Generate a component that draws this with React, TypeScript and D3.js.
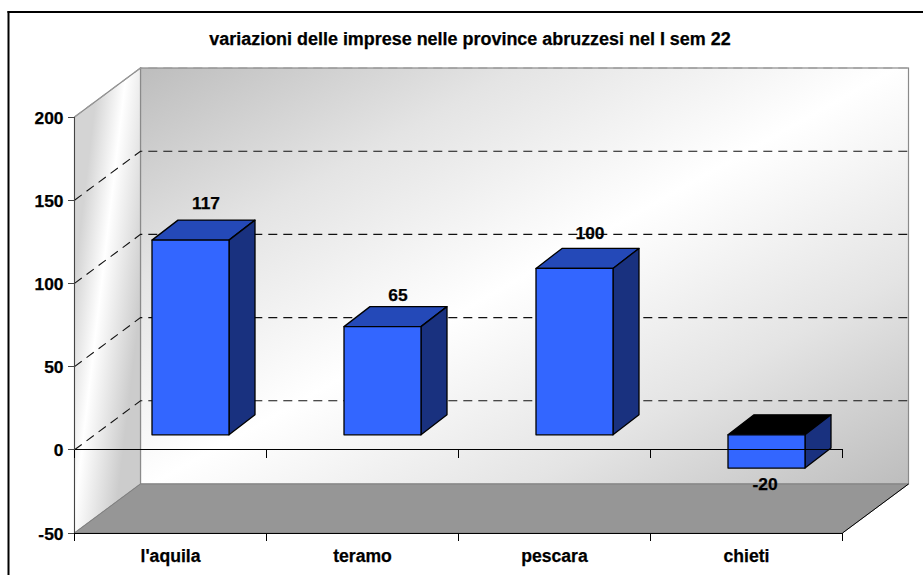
import React from 'react'
import * as d3 from 'd3'

const categories = ["l'aquila", 'teramo', 'pescara', 'chieti']
const values = [117, 65, 100, -20]
const yTicks = [-50, 0, 50, 100, 150, 200]
const gridTicks = [0, 50, 100, 150, 200]
const titleText = 'variazioni delle imprese nelle province abruzzesi nel I sem 22'

const width = 923
const height = 575
const font = '"Liberation Sans", Arial, sans-serif'

// oblique offset of the back wall, and of the bars inside the box
const depthX = 66
const depthY = -49
const barDepthX = 26
const barDepthY = -20
const barShiftX = 20
const barShiftY = -15
const barWidth = 77

const x = d3.scaleBand<string>().domain(categories).range([74.5, 842.5])
const y = d3.scaleLinear().domain([-50, 200]).range([533, 117])
// the value labels don't follow the bars exactly, they sit on their own scale
const labelY = d3.scaleLinear().domain([0, 117]).range([415.5, 208.5])

const boldText = { fontWeight: 'bold', stroke: '#000', strokeWidth: 0.25 } as const

const App: React.FC = () => {
  const x0 = x.range()[0]
  const x1 = x.range()[1]
  const edges = [...categories.map(c => x(c) as number), x1]

  const poly = (pts: number[][]) => d3.line()(pts as [number, number][]) + 'Z'

  return (
    <svg
      width={width}
      height={height}
      style={{ position: 'absolute', left: 0, top: 0, fontFamily: font }}
    >
      <defs>
        <linearGradient id="wall" gradientUnits="userSpaceOnUse" x1="344" y1="-46" x2="704" y2="598">
          <stop offset="0" stopColor="#bdbdbd" />
          <stop offset="0.25" stopColor="#e4e4e4" />
          <stop offset="0.5" stopColor="#ffffff" />
          <stop offset="0.75" stopColor="#e4e4e4" />
          <stop offset="1" stopColor="#bdbdbd" />
        </linearGradient>
        <linearGradient id="side" gradientUnits="userSpaceOnUse" x1="72" y1="300" x2="140" y2="308">
          <stop offset="0" stopColor="#d4d4d4" />
          <stop offset="0.4" stopColor="#ffffff" />
          <stop offset="1" stopColor="#cccccc" />
        </linearGradient>
      </defs>

      <rect width={width} height={height} fill="#fff" />
      <line x1={8.5} x2={8.5} y1={11} y2={height} stroke="#000" strokeWidth={2} />
      <line x1={7.5} x2={width} y1={12} y2={12} stroke="#000" strokeWidth={2} />

      <text x={470} y={45} textAnchor="middle" fontSize={17.95} {...boldText}>{titleText}</text>

      {/* back wall, side wall, floor */}
      <rect
        x={x0 + depthX}
        y={y(200) + depthY}
        width={x1 - x0}
        height={y(-50) - y(200)}
        fill="url(#wall)"
        stroke="#8a8a8a"
        strokeWidth={1.2}
      />
      <path
        d={poly([[x0, y(200)], [x0 + depthX, y(200) + depthY], [x0 + depthX, y(-50) + depthY], [x0, y(-50)]])}
        fill="url(#side)"
        stroke="#8a8a8a"
        strokeWidth={1.2}
      />
      <path
        d={poly([[x0, y(-50)], [x1, y(-50)], [x1 + depthX, y(-50) + depthY], [x0 + depthX, y(-50) + depthY]])}
        fill="#969696"
        stroke="#808080"
        strokeWidth={1}
      />

      {/* gridlines */}
      {gridTicks.map(t => (
        <path
          key={t}
          d={d3.line()([[x0, y(t)], [x0 + depthX, y(t) + depthY], [x1 + depthX, y(t) + depthY]]) as string}
          fill="none"
          stroke={t === 200 ? '#9a9a9a' : '#111'}
          strokeWidth={1.1}
          strokeDasharray="9 6"
        />
      ))}

      {/* bars */}
      {values.map((v, i) => {
        const left = (x(categories[i]) as number) + (x.bandwidth() - barWidth) / 2 + barShiftX
        const right = left + barWidth
        const top = y(Math.max(v, 0)) + barShiftY
        const bottom = y(Math.min(v, 0)) + barShiftY
        return (
          <g key={categories[i]} stroke="#000" strokeWidth={1.3} strokeLinejoin="round">
            <path
              d={poly([[left, top], [left + barDepthX, top + barDepthY], [right + barDepthX, top + barDepthY], [right, top]])}
              fill={v < 0 ? '#000' : '#2449b8'}
            />
            <path
              d={poly([[right, top], [right + barDepthX, top + barDepthY], [right + barDepthX, bottom + barDepthY], [right, bottom]])}
              fill="#19317f"
            />
            <rect x={left} y={top} width={barWidth} height={bottom - top} fill="#3366ff" />
          </g>
        )
      })}

      {/* axes */}
      <g stroke="#000" strokeWidth={1} fill="none" shapeRendering="crispEdges">
        <line x1={x0} x2={x0} y1={y(200)} y2={y(-50) + 8} stroke="#444" />
        <line x1={x0} x2={x1} y1={y(0)} y2={y(0)} />
        <line x1={x0} x2={x1} y1={y(-50)} y2={y(-50)} />
        {yTicks.map(t => (
          <line key={t} x1={x0 - 7} x2={x0} y1={y(t)} y2={y(t)} stroke="#444" />
        ))}
        {edges.map(e => (
          <g key={e}>
            <line x1={e} x2={e} y1={y(0)} y2={y(0) + 8} />
            <line x1={e} x2={e} y1={y(-50)} y2={y(-50) + 8} />
          </g>
        ))}
      </g>
      <line x1={x1} x2={x1 + depthX} y1={y(-50)} y2={y(-50) + depthY} stroke="#000" />

      {/* tick labels */}
      {yTicks.map(t => (
        <text key={t} x={63.5} y={y(t) + 6.5} textAnchor="end" fontSize={17.4} {...boldText}>{t}</text>
      ))}
      {categories.map(c => (
        <text key={c} x={(x(c) as number) + x.bandwidth() / 2} y={562} textAnchor="middle" fontSize={17.6} {...boldText}>{c}</text>
      ))}

      {/* value labels */}
      {values.map((v, i) => {
        const mid = (x(categories[i]) as number) + x.bandwidth() / 2 + barShiftX
        const cx = v < 0 ? mid - 1.5 : mid + 15.5
        const ly = v < 0 ? y(v) + barShiftY + 22 : labelY(v)
        return (
          <text key={categories[i]} x={cx} y={ly} textAnchor="middle" fontSize={17.4} {...boldText}>{v}</text>
        )
      })}
    </svg>
  )
}

export default App
